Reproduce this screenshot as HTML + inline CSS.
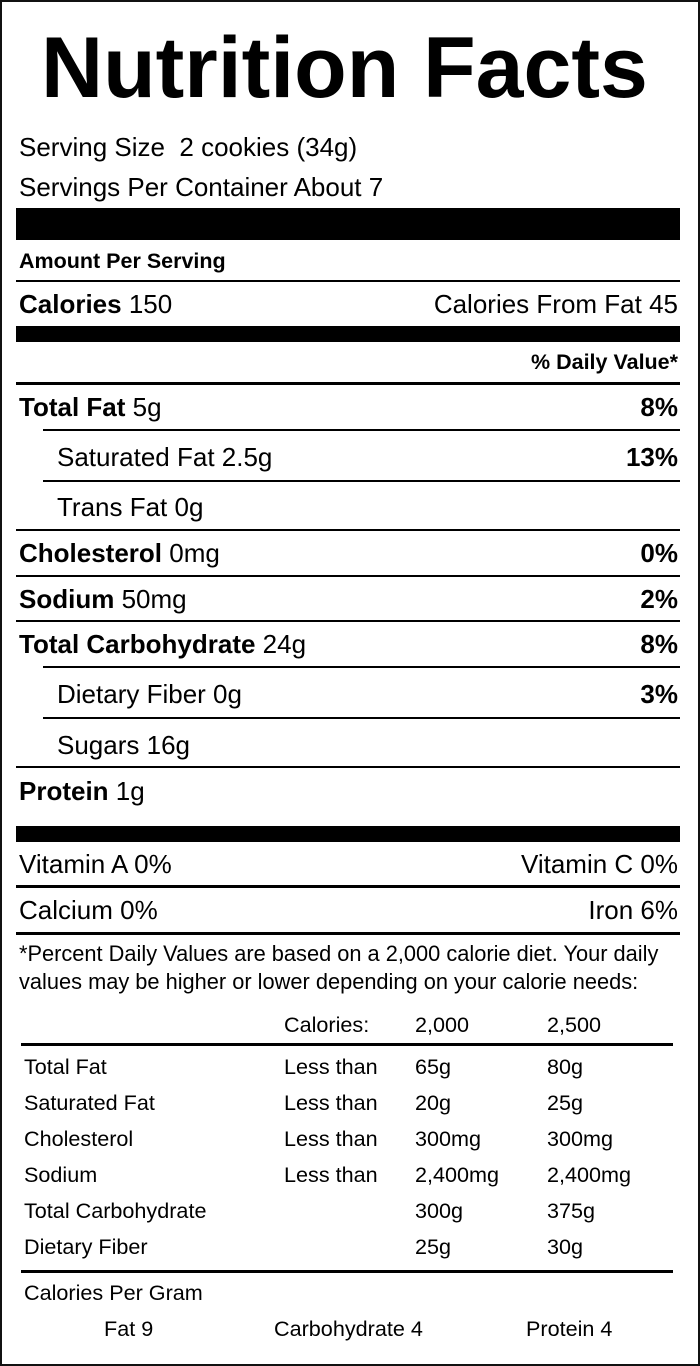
<!DOCTYPE html>
<html><head><meta charset="utf-8"><style>
html,body{margin:0;padding:0;background:#fff;}
body{width:700px;height:1366px;position:relative;overflow:hidden;font-family:"Liberation Sans",Arial,sans-serif;color:#000;}
.frame{position:absolute;left:0;top:0;width:696px;height:1362px;border:2px solid #111;}
.t{position:absolute;white-space:nowrap;line-height:28px;height:28px;}
.r{text-align:right;}
.l{position:absolute;background:#000;}
.b{font-weight:bold;}
.m{font-size:26px;}
.s{font-size:21.6px;}
</style></head><body>
<div class="frame"></div>
<div class="t b" style="left:41px;top:25px;font-size:86px;line-height:86px;height:86px;">Nutrition Facts</div>

<div class="t m" style="left:19px;top:133px;">Serving Size&nbsp; 2 cookies (34g)</div>
<div class="t m" style="left:19px;top:173px;">Servings Per Container About 7</div>
<div class="l" style="left:16px;top:208px;width:664px;height:32px;"></div>
<div class="t b" style="left:19px;top:247px;font-size:21.5px;">Amount Per Serving</div>
<div class="l" style="left:16px;top:280px;width:664px;height:2px;"></div>
<div class="t m" style="left:19px;top:290px;"><b>Calories</b> 150</div>
<div class="t m r" style="right:22px;top:290px;">Calories From Fat 45</div>
<div class="l" style="left:16px;top:326px;width:664px;height:16px;"></div>
<div class="t b r" style="right:22px;top:348px;font-size:21.5px;">% Daily Value*</div>
<div class="l" style="left:16px;top:382px;width:664px;height:3px;"></div>

<div class="t m" style="left:19px;top:393px;"><b>Total Fat</b> 5g</div>
<div class="t m b r" style="right:22px;top:393px;">8%</div>
<div class="l" style="left:43px;top:429px;width:637px;height:2px;"></div>
<div class="t m" style="left:57px;top:443px;">Saturated Fat 2.5g</div>
<div class="t m b r" style="right:22px;top:443px;">13%</div>
<div class="l" style="left:43px;top:480px;width:637px;height:2px;"></div>
<div class="t m" style="left:57px;top:493px;">Trans Fat 0g</div>
<div class="l" style="left:16px;top:529px;width:664px;height:2px;"></div>
<div class="t m" style="left:19px;top:539px;"><b>Cholesterol</b> 0mg</div>
<div class="t m b r" style="right:22px;top:539px;">0%</div>
<div class="l" style="left:16px;top:575px;width:664px;height:2px;"></div>
<div class="t m" style="left:19px;top:585px;"><b>Sodium</b> 50mg</div>
<div class="t m b r" style="right:22px;top:585px;">2%</div>
<div class="l" style="left:16px;top:620px;width:664px;height:2px;"></div>
<div class="t m" style="left:19px;top:630px;"><b>Total Carbohydrate</b> 24g</div>
<div class="t m b r" style="right:22px;top:630px;">8%</div>
<div class="l" style="left:43px;top:666px;width:637px;height:2px;"></div>
<div class="t m" style="left:57px;top:680px;">Dietary Fiber 0g</div>
<div class="t m b r" style="right:22px;top:680px;">3%</div>
<div class="l" style="left:43px;top:717px;width:637px;height:2px;"></div>
<div class="t m" style="left:57px;top:731px;">Sugars 16g</div>
<div class="l" style="left:16px;top:766px;width:664px;height:2px;"></div>
<div class="t m" style="left:19px;top:777px;"><b>Protein</b> 1g</div>
<div class="l" style="left:16px;top:826px;width:664px;height:16px;"></div>
<div class="t m" style="left:19px;top:850px;">Vitamin A 0%</div>
<div class="t m r" style="right:22px;top:850px;">Vitamin C 0%</div>
<div class="l" style="left:16px;top:885px;width:664px;height:3px;"></div>
<div class="t m" style="left:19px;top:896px;">Calcium 0%</div>
<div class="t m r" style="right:22px;top:896px;">Iron 6%</div>
<div class="l" style="left:16px;top:932px;width:664px;height:3px;"></div>
<div class="t" style="left:19px;top:940px;font-size:21.8px;">*Percent Daily Values are based on a 2,000 calorie diet. Your daily</div>
<div class="t" style="left:19px;top:968px;font-size:21.8px;">values may be higher or lower depending on your calorie needs:</div>

<div class="t s" style="left:284px;top:1011px;">Calories:</div>
<div class="t s" style="left:415px;top:1011px;">2,000</div>
<div class="t s" style="left:547px;top:1011px;">2,500</div>
<div class="l" style="left:21px;top:1043px;width:652px;height:3px;"></div>

<div class="t s" style="left:24px;top:1053px;">Total Fat</div>
<div class="t s" style="left:284px;top:1053px;">Less than</div>
<div class="t s" style="left:415px;top:1053px;">65g</div>
<div class="t s" style="left:547px;top:1053px;">80g</div>
<div class="t s" style="left:24px;top:1089px;">Saturated Fat</div>
<div class="t s" style="left:284px;top:1089px;">Less than</div>
<div class="t s" style="left:415px;top:1089px;">20g</div>
<div class="t s" style="left:547px;top:1089px;">25g</div>
<div class="t s" style="left:24px;top:1125px;">Cholesterol</div>
<div class="t s" style="left:284px;top:1125px;">Less than</div>
<div class="t s" style="left:415px;top:1125px;">300mg</div>
<div class="t s" style="left:547px;top:1125px;">300mg</div>
<div class="t s" style="left:24px;top:1161px;">Sodium</div>
<div class="t s" style="left:284px;top:1161px;">Less than</div>
<div class="t s" style="left:415px;top:1161px;">2,400mg</div>
<div class="t s" style="left:547px;top:1161px;">2,400mg</div>
<div class="t s" style="left:24px;top:1197px;">Total Carbohydrate</div>
<div class="t s" style="left:415px;top:1197px;">300g</div>
<div class="t s" style="left:547px;top:1197px;">375g</div>
<div class="t s" style="left:24px;top:1233px;">Dietary Fiber</div>
<div class="t s" style="left:415px;top:1233px;">25g</div>
<div class="t s" style="left:547px;top:1233px;">30g</div>
<div class="l" style="left:21px;top:1270px;width:652px;height:3px;"></div>
<div class="t s" style="left:24px;top:1279px;">Calories Per Gram</div>
<div class="t s" style="left:104px;top:1315px;">Fat 9</div>
<div class="t s" style="left:274px;top:1315px;">Carbohydrate 4</div>
<div class="t s" style="left:526px;top:1315px;">Protein 4</div>
</body></html>
